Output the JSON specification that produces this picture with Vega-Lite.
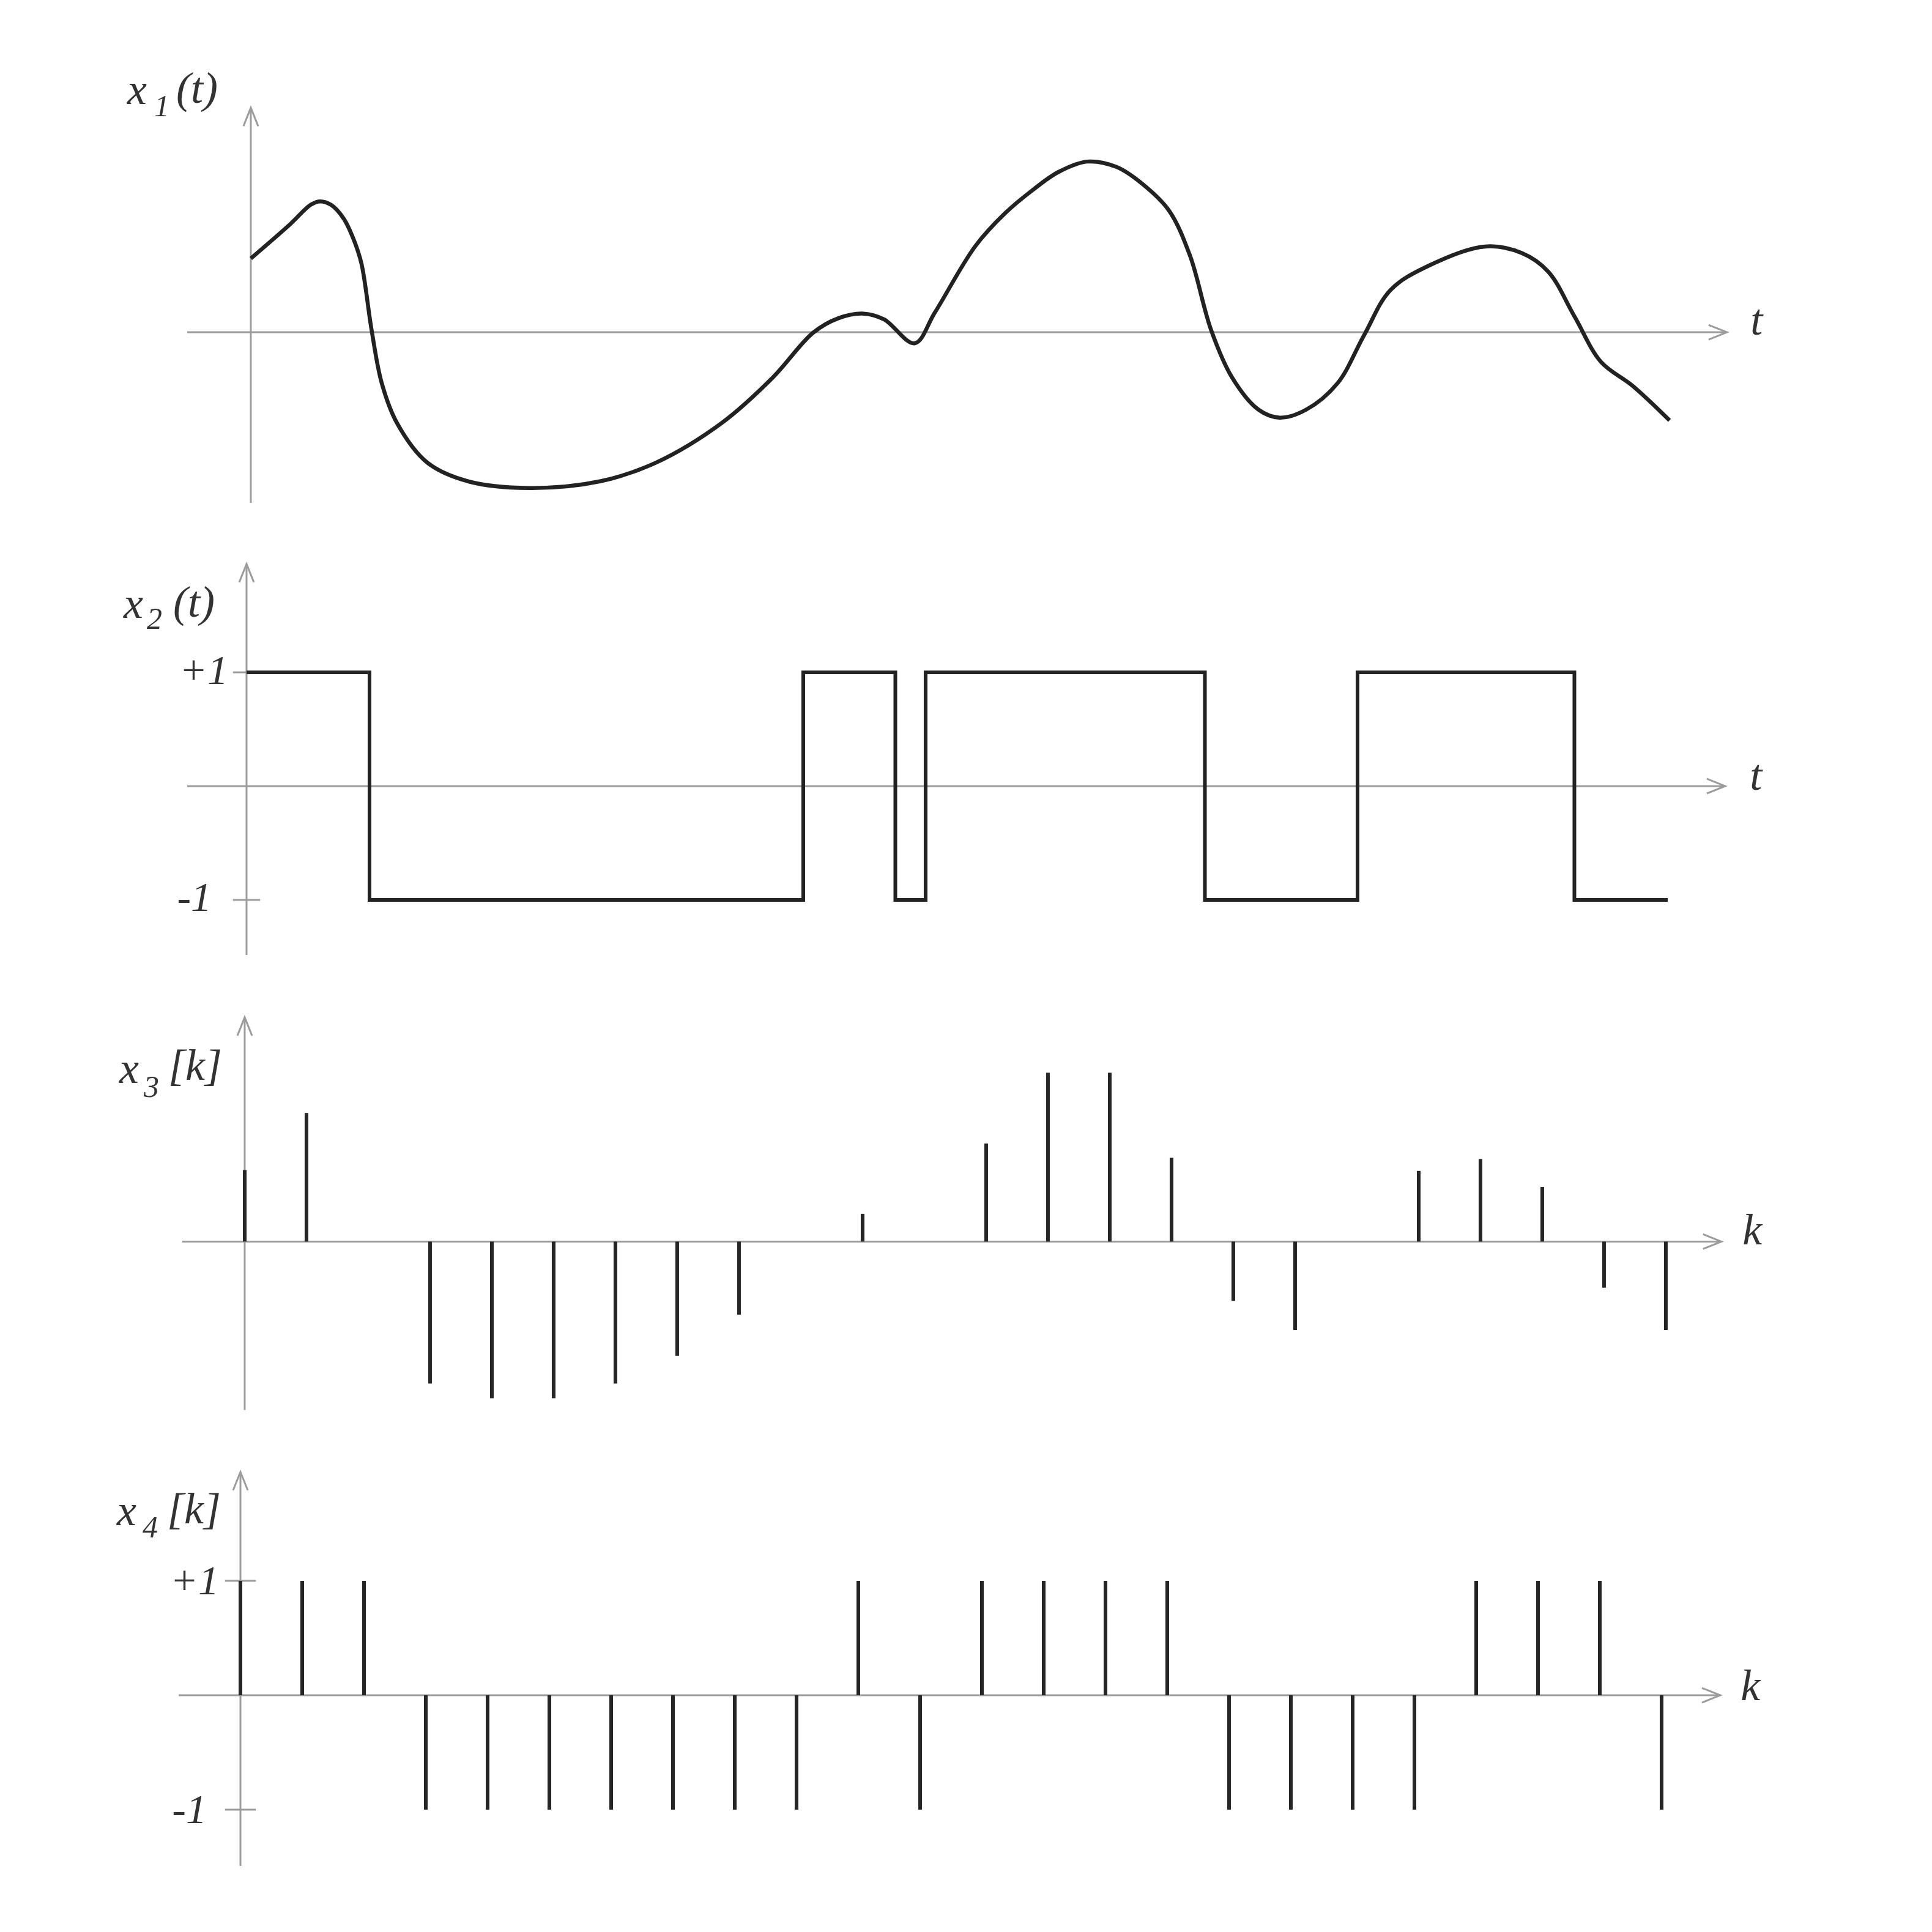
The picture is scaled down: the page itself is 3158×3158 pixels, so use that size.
{
  "$schema": "https://vega.github.io/schema/vega-lite/v6.json",
  "padding": {"left": 150, "top": 100, "right": 0, "bottom": 0},
  "spacing": 0,
  "bounds": "flush",
  "background": "white",
  "config": {"view": {"stroke": null}, "axis": {"disable": true}, "text": {"font": "Liberation Serif", "fontStyle": "italic"}},
  "vconcat": [
    {
      "width": 2800, "height": 780,
      "layer": [
        {"data": {"values": [{}]}, "mark": {"type": "rule", "color": "#9c9c9c", "strokeWidth": 3},
         "encoding": {"x": {"datum": -1.03, "type": "quantitative", "axis": null, "scale": {"domain": [-2.574, 25.149], "nice": false, "zero": false}}, "x2": {"datum": 23.89},
                      "y": {"datum": 0, "type": "quantitative", "axis": null, "scale": {"domain": [-1.673, 2.2], "nice": false, "zero": false}}}},
        {"data": {"values": [{}]}, "mark": {"type": "rule", "color": "#9c9c9c", "strokeWidth": 3},
         "encoding": {"x": {"datum": 0, "type": "quantitative", "axis": null, "scale": {"domain": [-2.574, 25.149], "nice": false, "zero": false}},
                      "y": {"datum": -1.385, "type": "quantitative", "axis": null, "scale": {"domain": [-1.673, 2.2], "nice": false, "zero": false}}, "y2": {"datum": 1.822}}},
        {"data": {"values": [{}]}, "mark": {"type": "point", "shape": "M -1 -0.4 L 0 0 L -1 0.4", "size": 3600, "filled": false, "color": "#9c9c9c", "strokeWidth": 3, "opacity": 1},
         "encoding": {"x": {"datum": 23.89, "type": "quantitative", "axis": null, "scale": {"domain": [-2.574, 25.149], "nice": false, "zero": false}},
                      "y": {"datum": 0, "type": "quantitative", "axis": null, "scale": {"domain": [-1.673, 2.2], "nice": false, "zero": false}}}},
        {"data": {"values": [{}]}, "mark": {"type": "point", "shape": "M -0.4 1 L 0 0 L 0.4 1", "size": 3600, "filled": false, "color": "#9c9c9c", "strokeWidth": 3, "opacity": 1},
         "encoding": {"x": {"datum": 0, "type": "quantitative", "axis": null, "scale": {"domain": [-2.574, 25.149], "nice": false, "zero": false}},
                      "y": {"datum": 1.822, "type": "quantitative", "axis": null, "scale": {"domain": [-1.673, 2.2], "nice": false, "zero": false}}}},
        {"data": {"values": [
          {"t": 0, "v": 0.599}, {"t": 0.641, "v": 0.879}, {"t": 0.969, "v": 1.034}, {"t": 1.12, "v": 1.062},
          {"t": 1.298, "v": 1.034}, {"t": 1.503, "v": 0.922}, {"t": 1.667, "v": 0.75}, {"t": 1.791, "v": 0.556},
          {"t": 1.955, "v": 0.017}, {"t": 2.119, "v": -0.413}, {"t": 2.365, "v": -0.736}, {"t": 2.859, "v": -1.059},
          {"t": 3.515, "v": -1.21}, {"t": 4.501, "v": -1.264}, {"t": 5.651, "v": -1.21}, {"t": 6.554, "v": -1.059},
          {"t": 7.622, "v": -0.736}, {"t": 8.443, "v": -0.37}, {"t": 9.1, "v": -0.004}, {"t": 9.511, "v": 0.114},
          {"t": 9.922, "v": 0.151}, {"t": 10.25, "v": 0.104}, {"t": 10.743, "v": -0.09}, {"t": 11.071, "v": 0.16},
          {"t": 11.727, "v": 0.7}, {"t": 12.216, "v": 0.97}, {"t": 12.643, "v": 1.15}, {"t": 13.069, "v": 1.3},
          {"t": 13.538, "v": 1.385}, {"t": 14.008, "v": 1.342}, {"t": 14.434, "v": 1.202}, {"t": 14.861, "v": 0.987},
          {"t": 15.201, "v": 0.62}, {"t": 15.542, "v": 0.017}, {"t": 15.884, "v": -0.37}, {"t": 16.31, "v": -0.629},
          {"t": 16.65, "v": -0.693}, {"t": 17.077, "v": -0.629}, {"t": 17.589, "v": -0.413}, {"t": 18.015, "v": -0.026},
          {"t": 18.441, "v": 0.341}, {"t": 19.038, "v": 0.534}, {"t": 19.976, "v": 0.696}, {"t": 20.573, "v": 0.642},
          {"t": 20.999, "v": 0.491}, {"t": 21.426, "v": 0.125}, {"t": 21.852, "v": -0.241}, {"t": 22.364, "v": -0.435},
          {"t": 22.961, "v": -0.715}
        ]},
         "mark": {"type": "line", "interpolate": "catmull-rom", "color": "#222222", "strokeWidth": 6.5},
         "encoding": {"x": {"field": "t", "type": "quantitative", "axis": null, "scale": {"domain": [-2.574, 25.149], "nice": false, "zero": false}},
                      "y": {"field": "v", "type": "quantitative", "axis": null, "scale": {"domain": [-1.673, 2.2], "nice": false, "zero": false}}}},
        {"data": {"values": [{"t": -2.0, "v": 1.852, "label": "x"}, {"t": -1.208, "v": 1.862, "label": "(t)"}, {"t": 24.27, "v": -0.02, "label": "t"}]},
         "mark": {"type": "text", "align": "left", "baseline": "alphabetic", "fontSize": 72, "color": "#333333"},
         "encoding": {"x": {"field": "t", "type": "quantitative", "axis": null, "scale": {"domain": [-2.574, 25.149], "nice": false, "zero": false}},
                      "y": {"field": "v", "type": "quantitative", "axis": null, "scale": {"domain": [-1.673, 2.2], "nice": false, "zero": false}},
                      "text": {"field": "label"}}},
        {"data": {"values": [{"t": -1.564, "v": 1.753, "label": "1"}]},
         "mark": {"type": "text", "align": "left", "baseline": "alphabetic", "fontSize": 50, "color": "#333333"},
         "encoding": {"x": {"field": "t", "type": "quantitative", "axis": null, "scale": {"domain": [-2.574, 25.149], "nice": false, "zero": false}},
                      "y": {"field": "v", "type": "quantitative", "axis": null, "scale": {"domain": [-1.673, 2.2], "nice": false, "zero": false}},
                      "text": {"field": "label"}}}
      ]
    },
    {
      "width": 2800, "height": 740,
      "layer": [
        {"data": {"values": [{}]}, "mark": {"type": "rule", "color": "#9c9c9c", "strokeWidth": 3},
         "encoding": {"x": {"datum": -0.96, "type": "quantitative", "axis": null, "scale": {"domain": [-2.505, 25.218], "nice": false, "zero": false}}, "x2": {"datum": 23.93},
                      "y": {"datum": 0, "type": "quantitative", "axis": null, "scale": {"domain": [-1.801, 2.177], "nice": false, "zero": false}}}},
        {"data": {"values": [{}]}, "mark": {"type": "rule", "color": "#9c9c9c", "strokeWidth": 3},
         "encoding": {"x": {"datum": 0, "type": "quantitative", "axis": null, "scale": {"domain": [-2.505, 25.218], "nice": false, "zero": false}},
                      "y": {"datum": -1.484, "type": "quantitative", "axis": null, "scale": {"domain": [-1.801, 2.177], "nice": false, "zero": false}}, "y2": {"datum": 1.952}}},
        {"data": {"values": [{"v": 1}, {"v": -1}]}, "mark": {"type": "rule", "color": "#9c9c9c", "strokeWidth": 3},
         "encoding": {"x": {"datum": -0.22, "type": "quantitative", "axis": null, "scale": {"domain": [-2.505, 25.218], "nice": false, "zero": false}}, "x2": {"datum": 0.22},
                      "y": {"field": "v", "type": "quantitative", "axis": null, "scale": {"domain": [-1.801, 2.177], "nice": false, "zero": false}}}},
        {"data": {"values": [{}]}, "mark": {"type": "point", "shape": "M -1 -0.4 L 0 0 L -1 0.4", "size": 3600, "filled": false, "color": "#9c9c9c", "strokeWidth": 3, "opacity": 1},
         "encoding": {"x": {"datum": 23.93, "type": "quantitative", "axis": null, "scale": {"domain": [-2.505, 25.218], "nice": false, "zero": false}},
                      "y": {"datum": 0, "type": "quantitative", "axis": null, "scale": {"domain": [-1.801, 2.177], "nice": false, "zero": false}}}},
        {"data": {"values": [{}]}, "mark": {"type": "point", "shape": "M -0.4 1 L 0 0 L 0.4 1", "size": 3600, "filled": false, "color": "#9c9c9c", "strokeWidth": 3, "opacity": 1},
         "encoding": {"x": {"datum": 0, "type": "quantitative", "axis": null, "scale": {"domain": [-2.505, 25.218], "nice": false, "zero": false}},
                      "y": {"datum": 1.952, "type": "quantitative", "axis": null, "scale": {"domain": [-1.801, 2.177], "nice": false, "zero": false}}}},
        {"data": {"values": [
          {"t": 0, "v": 1}, {"t": 1.99, "v": -1}, {"t": 9.01, "v": 1}, {"t": 10.5, "v": -1}, {"t": 10.99, "v": 1},
          {"t": 15.51, "v": -1}, {"t": 17.98, "v": 1}, {"t": 21.49, "v": -1}, {"t": 23.0, "v": -1}
        ]},
         "mark": {"type": "line", "interpolate": "step-after", "color": "#222222", "strokeWidth": 6},
         "encoding": {"x": {"field": "t", "type": "quantitative", "axis": null, "scale": {"domain": [-2.505, 25.218], "nice": false, "zero": false}},
                      "y": {"field": "v", "type": "quantitative", "axis": null, "scale": {"domain": [-1.801, 2.177], "nice": false, "zero": false}}}},
        {"data": {"values": [{"t": -1.99, "v": 1.478, "label": "x"}, {"t": -1.188, "v": 1.489, "label": "(t)"}, {"t": 24.33, "v": -0.03, "label": "t"}]},
         "mark": {"type": "text", "align": "left", "baseline": "alphabetic", "fontSize": 72, "color": "#333333"},
         "encoding": {"x": {"field": "t", "type": "quantitative", "axis": null, "scale": {"domain": [-2.505, 25.218], "nice": false, "zero": false}},
                      "y": {"field": "v", "type": "quantitative", "axis": null, "scale": {"domain": [-1.801, 2.177], "nice": false, "zero": false}},
                      "text": {"field": "label"}}},
        {"data": {"values": [{"t": -1.614, "v": 1.382, "label": "2"}]},
         "mark": {"type": "text", "align": "left", "baseline": "alphabetic", "fontSize": 50, "color": "#333333"},
         "encoding": {"x": {"field": "t", "type": "quantitative", "axis": null, "scale": {"domain": [-2.505, 25.218], "nice": false, "zero": false}},
                      "y": {"field": "v", "type": "quantitative", "axis": null, "scale": {"domain": [-1.801, 2.177], "nice": false, "zero": false}},
                      "text": {"field": "label"}}},
        {"data": {"values": [{"t": -0.297, "v": 0.895, "label": "+1"}, {"t": -0.564, "v": -1.095, "label": "-1"}]},
         "mark": {"type": "text", "align": "right", "baseline": "alphabetic", "fontSize": 68, "color": "#333333"},
         "encoding": {"x": {"field": "t", "type": "quantitative", "axis": null, "scale": {"domain": [-2.505, 25.218], "nice": false, "zero": false}},
                      "y": {"field": "v", "type": "quantitative", "axis": null, "scale": {"domain": [-1.801, 2.177], "nice": false, "zero": false}},
                      "text": {"field": "label"}}}
      ]
    },
    {
      "width": 2800, "height": 740,
      "layer": [
        {"data": {"values": [{}]}, "mark": {"type": "rule", "color": "#9c9c9c", "strokeWidth": 3},
         "encoding": {"x": {"datum": -1.01, "type": "quantitative", "axis": null, "scale": {"domain": [-2.475, 25.248], "nice": false, "zero": false}}, "x2": {"datum": 23.9},
                      "y": {"datum": 0, "type": "quantitative", "axis": null, "scale": {"domain": [-1.641, 2.033], "nice": false, "zero": false}}}},
        {"data": {"values": [{}]}, "mark": {"type": "rule", "color": "#9c9c9c", "strokeWidth": 3},
         "encoding": {"x": {"datum": 0, "type": "quantitative", "axis": null, "scale": {"domain": [-2.475, 25.248], "nice": false, "zero": false}},
                      "y": {"datum": -1.367, "type": "quantitative", "axis": null, "scale": {"domain": [-1.641, 2.033], "nice": false, "zero": false}}, "y2": {"datum": 1.82}}},
        {"data": {"values": [{}]}, "mark": {"type": "point", "shape": "M -1 -0.4 L 0 0 L -1 0.4", "size": 3600, "filled": false, "color": "#9c9c9c", "strokeWidth": 3, "opacity": 1},
         "encoding": {"x": {"datum": 23.9, "type": "quantitative", "axis": null, "scale": {"domain": [-2.475, 25.248], "nice": false, "zero": false}},
                      "y": {"datum": 0, "type": "quantitative", "axis": null, "scale": {"domain": [-1.641, 2.033], "nice": false, "zero": false}}}},
        {"data": {"values": [{}]}, "mark": {"type": "point", "shape": "M -0.4 1 L 0 0 L 0.4 1", "size": 3600, "filled": false, "color": "#9c9c9c", "strokeWidth": 3, "opacity": 1},
         "encoding": {"x": {"datum": 0, "type": "quantitative", "axis": null, "scale": {"domain": [-2.475, 25.248], "nice": false, "zero": false}},
                      "y": {"datum": 1.82, "type": "quantitative", "axis": null, "scale": {"domain": [-1.641, 2.033], "nice": false, "zero": false}}}},
        {"data": {"values": [
          {"t": 0, "v": 0.581}, {"t": 1, "v": 1.044}, {"t": 2, "v": 0}, {"t": 3, "v": -1.152}, {"t": 4, "v": -1.271},
          {"t": 5, "v": -1.271}, {"t": 6, "v": -1.152}, {"t": 7, "v": -0.926}, {"t": 8, "v": -0.593}, {"t": 9, "v": 0},
          {"t": 10, "v": 0.226}, {"t": 11, "v": 0}, {"t": 12, "v": 0.796}, {"t": 13, "v": 1.37}, {"t": 14, "v": 1.37},
          {"t": 15, "v": 0.68}, {"t": 16, "v": -0.482}, {"t": 17, "v": -0.718}, {"t": 18, "v": 0}, {"t": 19, "v": 0.574},
          {"t": 20, "v": 0.67}, {"t": 21, "v": 0.444}, {"t": 22, "v": -0.374}, {"t": 23, "v": -0.718}
        ]},
         "mark": {"type": "rule", "color": "#262626", "strokeWidth": 6},
         "encoding": {"x": {"field": "t", "type": "quantitative", "axis": null, "scale": {"domain": [-2.475, 25.248], "nice": false, "zero": false}},
                      "y": {"field": "v", "type": "quantitative", "axis": null, "scale": {"domain": [-1.641, 2.033], "nice": false, "zero": false}},
                      "y2": {"datum": 0}}},
        {"data": {"values": [{"t": -2.03, "v": 1.288, "label": "x"}, {"t": -1.238, "v": 1.313, "label": "[k]"}, {"t": 24.24, "v": -0.02, "label": "k"}]},
         "mark": {"type": "text", "align": "left", "baseline": "alphabetic", "fontSize": 72, "color": "#333333"},
         "encoding": {"x": {"field": "t", "type": "quantitative", "axis": null, "scale": {"domain": [-2.475, 25.248], "nice": false, "zero": false}},
                      "y": {"field": "v", "type": "quantitative", "axis": null, "scale": {"domain": [-1.641, 2.033], "nice": false, "zero": false}},
                      "text": {"field": "label"}}},
        {"data": {"values": [{"t": -1.634, "v": 1.174, "label": "3"}]},
         "mark": {"type": "text", "align": "left", "baseline": "alphabetic", "fontSize": 50, "color": "#333333"},
         "encoding": {"x": {"field": "t", "type": "quantitative", "axis": null, "scale": {"domain": [-2.475, 25.248], "nice": false, "zero": false}},
                      "y": {"field": "v", "type": "quantitative", "axis": null, "scale": {"domain": [-1.641, 2.033], "nice": false, "zero": false}},
                      "text": {"field": "label"}}}
      ]
    },
    {
      "width": 2800, "height": 740,
      "layer": [
        {"data": {"values": [{}]}, "mark": {"type": "rule", "color": "#9c9c9c", "strokeWidth": 3},
         "encoding": {"x": {"datum": -1.0, "type": "quantitative", "axis": null, "scale": {"domain": [-2.406, 25.317], "nice": false, "zero": false}}, "x2": {"datum": 23.95},
                      "y": {"datum": 0, "type": "quantitative", "axis": null, "scale": {"domain": [-1.759, 2.198], "nice": false, "zero": false}}}},
        {"data": {"values": [{}]}, "mark": {"type": "rule", "color": "#9c9c9c", "strokeWidth": 3},
         "encoding": {"x": {"datum": 0, "type": "quantitative", "axis": null, "scale": {"domain": [-2.406, 25.317], "nice": false, "zero": false}},
                      "y": {"datum": -1.492, "type": "quantitative", "axis": null, "scale": {"domain": [-1.759, 2.198], "nice": false, "zero": false}}, "y2": {"datum": 1.952}}},
        {"data": {"values": [{"v": 1}, {"v": -1}]}, "mark": {"type": "rule", "color": "#9c9c9c", "strokeWidth": 3},
         "encoding": {"x": {"datum": -0.25, "type": "quantitative", "axis": null, "scale": {"domain": [-2.406, 25.317], "nice": false, "zero": false}}, "x2": {"datum": 0.25},
                      "y": {"field": "v", "type": "quantitative", "axis": null, "scale": {"domain": [-1.759, 2.198], "nice": false, "zero": false}}}},
        {"data": {"values": [{}]}, "mark": {"type": "point", "shape": "M -1 -0.4 L 0 0 L -1 0.4", "size": 3600, "filled": false, "color": "#9c9c9c", "strokeWidth": 3, "opacity": 1},
         "encoding": {"x": {"datum": 23.95, "type": "quantitative", "axis": null, "scale": {"domain": [-2.406, 25.317], "nice": false, "zero": false}},
                      "y": {"datum": 0, "type": "quantitative", "axis": null, "scale": {"domain": [-1.759, 2.198], "nice": false, "zero": false}}}},
        {"data": {"values": [{}]}, "mark": {"type": "point", "shape": "M -0.4 1 L 0 0 L 0.4 1", "size": 3600, "filled": false, "color": "#9c9c9c", "strokeWidth": 3, "opacity": 1},
         "encoding": {"x": {"datum": 0, "type": "quantitative", "axis": null, "scale": {"domain": [-2.406, 25.317], "nice": false, "zero": false}},
                      "y": {"datum": 1.952, "type": "quantitative", "axis": null, "scale": {"domain": [-1.759, 2.198], "nice": false, "zero": false}}}},
        {"data": {"values": [
          {"t": 0, "v": 1}, {"t": 1, "v": 1}, {"t": 2, "v": 1}, {"t": 3, "v": -1}, {"t": 4, "v": -1}, {"t": 5, "v": -1},
          {"t": 6, "v": -1}, {"t": 7, "v": -1}, {"t": 8, "v": -1}, {"t": 9, "v": -1}, {"t": 10, "v": 1}, {"t": 11, "v": -1},
          {"t": 12, "v": 1}, {"t": 13, "v": 1}, {"t": 14, "v": 1}, {"t": 15, "v": 1}, {"t": 16, "v": -1}, {"t": 17, "v": -1},
          {"t": 18, "v": -1}, {"t": 19, "v": -1}, {"t": 20, "v": 1}, {"t": 21, "v": 1}, {"t": 22, "v": 1}, {"t": 23, "v": -1}
        ]},
         "mark": {"type": "rule", "color": "#262626", "strokeWidth": 6},
         "encoding": {"x": {"field": "t", "type": "quantitative", "axis": null, "scale": {"domain": [-2.406, 25.317], "nice": false, "zero": false}},
                      "y": {"field": "v", "type": "quantitative", "axis": null, "scale": {"domain": [-1.759, 2.198], "nice": false, "zero": false}},
                      "y2": {"datum": 0}}},
        {"data": {"values": [{"t": -2.0, "v": 1.487, "label": "x"}, {"t": -1.188, "v": 1.503, "label": "[k]"}, {"t": 24.28, "v": -0.04, "label": "k"}]},
         "mark": {"type": "text", "align": "left", "baseline": "alphabetic", "fontSize": 72, "color": "#333333"},
         "encoding": {"x": {"field": "t", "type": "quantitative", "axis": null, "scale": {"domain": [-2.406, 25.317], "nice": false, "zero": false}},
                      "y": {"field": "v", "type": "quantitative", "axis": null, "scale": {"domain": [-1.759, 2.198], "nice": false, "zero": false}},
                      "text": {"field": "label"}}},
        {"data": {"values": [{"t": -1.584, "v": 1.38, "label": "4"}]},
         "mark": {"type": "text", "align": "left", "baseline": "alphabetic", "fontSize": 50, "color": "#333333"},
         "encoding": {"x": {"field": "t", "type": "quantitative", "axis": null, "scale": {"domain": [-2.406, 25.317], "nice": false, "zero": false}},
                      "y": {"field": "v", "type": "quantitative", "axis": null, "scale": {"domain": [-1.759, 2.198], "nice": false, "zero": false}},
                      "text": {"field": "label"}}},
        {"data": {"values": [{"t": -0.347, "v": 0.88, "label": "+1"}, {"t": -0.545, "v": -1.115, "label": "-1"}]},
         "mark": {"type": "text", "align": "right", "baseline": "alphabetic", "fontSize": 68, "color": "#333333"},
         "encoding": {"x": {"field": "t", "type": "quantitative", "axis": null, "scale": {"domain": [-2.406, 25.317], "nice": false, "zero": false}},
                      "y": {"field": "v", "type": "quantitative", "axis": null, "scale": {"domain": [-1.759, 2.198], "nice": false, "zero": false}},
                      "text": {"field": "label"}}}
      ]
    }
  ]
}
